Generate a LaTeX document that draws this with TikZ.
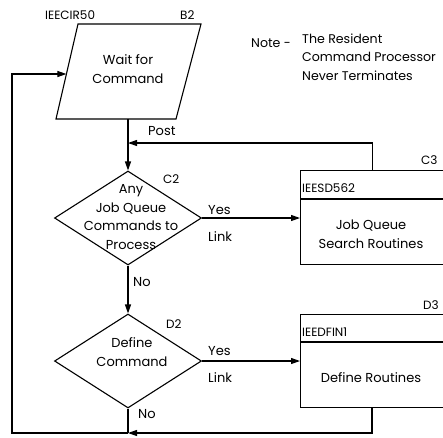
\documentclass[tikz,border=0pt]{standalone}
\usepackage{fontspec}
\setmainfont{Poppins}
\usetikzlibrary{arrows.meta,shapes.geometric}
\begin{document}
\begin{tikzpicture}[x=1pt,y=-1pt,
  line/.style={line width=1.1pt},
  flow/.style={line,-{Triangle[length=9pt,width=6pt]}},
  txt/.style={font=\fontsize{13}{18.7}\selectfont,align=center,inner sep=0pt},
  notetxt/.style={font=\fontsize{12.6}{18.2}\selectfont,inner sep=0pt},
  tag/.style={font=\fontsize{12}{14}\selectfont,inner sep=0pt},
  decision/.style={diamond,draw,line,minimum width=147pt,minimum height=94pt,inner sep=0pt},
  routine/.style={draw,line,rectangle,minimum width=170pt,inner sep=0pt,anchor=north west}]
\useasboundingbox (0,0) rectangle (443,437);
\clip (0,0) rectangle (443,437);

% Wait for Command (parallelogram)
\draw[line] (78,24) -- (201,24) -- (176,119) -- (56,119) -- cycle;
\node[txt] (wait) at (128,69) {Wait for\\Command};
\node[tag,anchor=west] (waitid) at (45,15) {IEECIR50};
\node[tag,anchor=west] (waitref) at (180,15) {B2};
\coordinate (waitin) at (66.4,74);
\coordinate (waitout) at (128,119);

% Note
\node[notetxt,anchor=west] (notelbl) at (251,43) {Note -};
\node[notetxt,anchor=north west,align=left] (note) at (302,34) {The Resident\\Command Processor\\Never Terminates};

% Decision C2
\node[decision] (c2) at (128,218) {};
\node[txt] (c2txt) at (131,217) {Any\\Job Queue\\Commands to\\Process};
\node[tag,anchor=west] (c2ref) at (163,179) {C2};
\node[txt,anchor=west] (c2yes) at (208,210) {Yes};
\node[txt,anchor=west] (c2link) at (208,237) {Link};
\node[txt,anchor=west] (c2no) at (133,282) {No};

% Routine C3
\node[routine,minimum height=94pt] (c3) at (300,170) {};
\draw[line] (300,199) -- (470,199);
\node[tag,anchor=west] (c3id) at (302,188) {IEESD562};
\node[tag,anchor=west] (c3ref) at (421,160) {C3};
\node[txt] (c3txt) at (371,234) {Job Queue\\Search Routines};
\coordinate (c3top) at (372.5,170);
\coordinate (postjoin) at (128,143);
\node[txt,anchor=west] (post) at (148,131) {Post};

% Decision D2
\node[decision] (d2) at (128,361) {};
\node[txt] (d2txt) at (132,352) {Define\\Command};
\node[tag,anchor=west] (d2ref) at (166,324) {D2};
\node[txt,anchor=west] (d2yes) at (208,351) {Yes};
\node[txt,anchor=west] (d2link) at (208,378) {Link};
\node[txt,anchor=west] (d2no) at (138,414) {No};

% Routine D3
\node[routine,minimum height=93pt] (d3) at (300,314) {};
\draw[line] (300,342) -- (470,342);
\node[tag,anchor=west] (d3id) at (302,332) {IEEDFIN1};
\node[tag,anchor=west] (d3ref) at (423,305) {D3};
\node[txt] (d3txt) at (371,378) {Define Routines};
\coordinate (d3bot) at (372,407);
\coordinate (retjoin) at (128,433);
\coordinate (loopcorner) at (12,433);

% Connectors
\draw[flow] (waitout) -- (c2.north);
\draw[flow] (c3top) |- (postjoin);
\draw[flow] (c2.east) -- (c3.west |- c2.east);
\draw[flow] (c2.south) -- (d2.north);
\draw[flow] (d2.east) -- (d3.west |- d2.east);
\draw[line] (d2.south) -- (retjoin);
\draw[flow] (d3bot) |- (retjoin);
\draw[flow] (retjoin) -- (loopcorner) |- (waitin);
\end{tikzpicture}
\end{document}
